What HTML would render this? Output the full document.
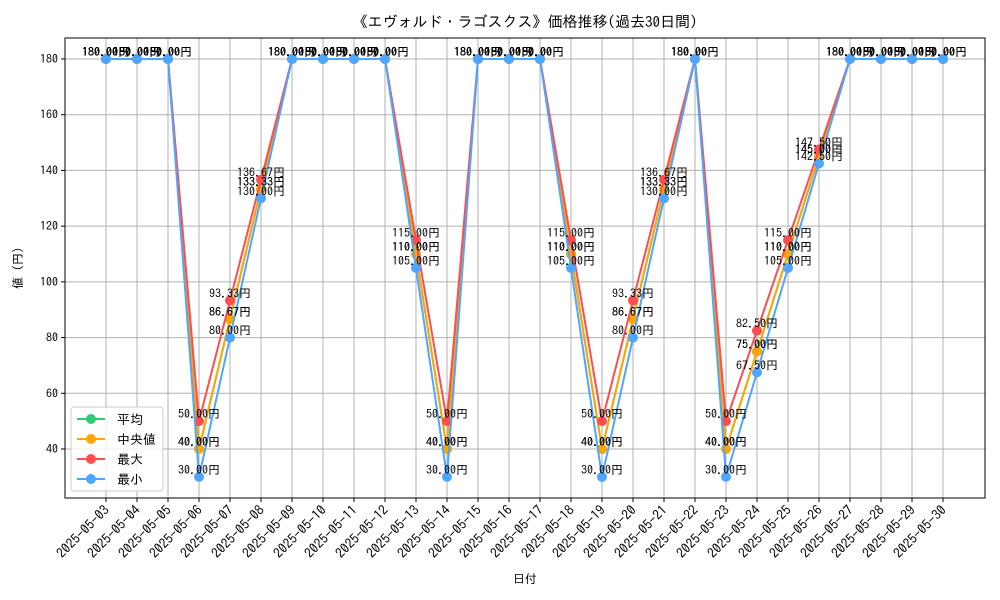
<!DOCTYPE html>
<html><head><meta charset="utf-8"><style>
body{margin:0;background:#fff;}
svg{display:block;font-family:"IPAGothic","Noto Sans CJK JP",sans-serif;}
</style></head><body>
<svg id="chart" width="1000" height="600">
<rect x="0" y="0" width="1000" height="600" fill="#fff"/>
<text x="525" y="27" text-anchor="middle" font-size="15">《エヴォルド・ラゴスクス》価格推移(過去30日間)</text>
<g id="grid"></g><g id="series"></g><g id="labels"></g><g id="axes"></g>
<text x="525" y="583" text-anchor="middle" font-size="12">日付</text>
<text x="22" y="268" text-anchor="middle" font-size="12" transform="rotate(-90 22 268)">値 (円)</text>
</svg>
<script>
const dates=["2025-05-03","2025-05-04","2025-05-05","2025-05-06","2025-05-07","2025-05-08","2025-05-09","2025-05-10","2025-05-11","2025-05-12","2025-05-13","2025-05-14","2025-05-15","2025-05-16","2025-05-17","2025-05-18","2025-05-19","2025-05-20","2025-05-21","2025-05-22","2025-05-23","2025-05-24","2025-05-25","2025-05-26","2025-05-27","2025-05-28","2025-05-29","2025-05-30"];
const meanVals=[180,180,180,40,86.67,133.33,180,180,180,180,110,40,180,180,180,110,40,86.67,133.33,180,40,75,110,145,180,180,180,180];
const medianVals=[180,180,180,40,86.67,133.33,180,180,180,180,110,40,180,180,180,110,40,86.67,133.33,180,40,75,110,145,180,180,180,180];
const maxVals=[180,180,180,50,93.33,136.67,180,180,180,180,115,50,180,180,180,115,50,93.33,136.67,180,50,82.5,115,147.5,180,180,180,180];
const minVals=[180,180,180,30,80,130,180,180,180,180,105,30,180,180,180,105,30,80,130,180,30,67.5,105,142.5,180,180,180,180];
const yTicks=[40,60,80,100,120,140,160,180];
const seriesNames=["平均","中央値","最大","最小"];
const L=65,R=985,T=38,B=498;
const xS=i=>106+i*(943-106)/(dates.length-1);
const yS=v=>59+(180-v)*(390/140);
const NS="http://www.w3.org/2000/svg";
function mk(tag,attrs,parent){const e=document.createElementNS(NS,tag);for(const k in attrs)e.setAttribute(k,attrs[k]);parent.appendChild(e);return e;}
const grid=document.getElementById('grid'),axes=document.getElementById('axes'),sg=document.getElementById('series'),lg=document.getElementById('labels');
dates.forEach((d,i)=>{
 const x=xS(i);
 const gl=mk('line',{x1:x,x2:x,y1:T,y2:B,stroke:'#b0b0b0','stroke-width':1},grid);
 
 
 const tk=mk('line',{x1:x,x2:x,y1:B,y2:B+4,stroke:'#000'},axes);
 
 
 const t=mk('text',{x:x+4,y:B+13,'font-size':13.5,'text-anchor':'end',transform:`rotate(-45 ${x+4} ${B+13})`},axes);
 t.textContent=d;
 
 
});
yTicks.forEach(v=>{
 const y=yS(v);
 const gl=mk('line',{x1:L,x2:R,y1:y,y2:y,stroke:'#b0b0b0','stroke-width':1},grid);
 
 
 const tk=mk('line',{x1:L-4,x2:L,y1:y,y2:y,stroke:'#000'},axes);
 
 
 const t=mk('text',{x:L-7,y:y+4,'font-size':12,'text-anchor':'end'},axes);
 t.textContent=v;
 
 
});
const frame=mk('rect',{x:L,y:T,width:R-L,height:B-T,fill:'none',stroke:'#000','stroke-width':1},axes);


const all=[meanVals,medianVals,maxVals,minVals];
const cols=["#2ecc71","#ffa500","#ff4d4d","#4da6ff"];
const keys=["mean","median","max","min"];
all.forEach((vals,s)=>{
 const g=mk('g',{},sg);
 
 
 const pl=mk('polyline',{points:vals.map((v,i)=>xS(i)+','+yS(v)).join(' '),fill:'none',stroke:cols[s],'stroke-width':2},g);
 
 
 vals.forEach((v,i)=>{
  const c=mk('circle',{cx:xS(i),cy:yS(v),r:5,fill:cols[s]},g);
  
  
  const t=mk('text',{x:xS(i),y:yS(v)-3,'font-size':12,'text-anchor':'middle'},lg);
  t.textContent=v.toFixed(2)+'円';
  
  
 });
});
const leg=mk('g',{},axes);


mk('rect',{x:71,y:407,width:92,height:84,rx:3,fill:'#fff','fill-opacity':0.8,stroke:'#ccc'},leg);
seriesNames.forEach((n,s)=>{
 const y=419+s*20;
 const e=mk('g',{},leg);
 
 
 mk('line',{x1:77,x2:105,y1:y,y2:y,stroke:cols[s],'stroke-width':2},e);
 mk('circle',{cx:91,cy:y,r:5,fill:cols[s]},e);
 const t=mk('text',{x:117,y:y+5,'font-size':13},e);
 t.textContent=n;
});
</script>
</body></html>
